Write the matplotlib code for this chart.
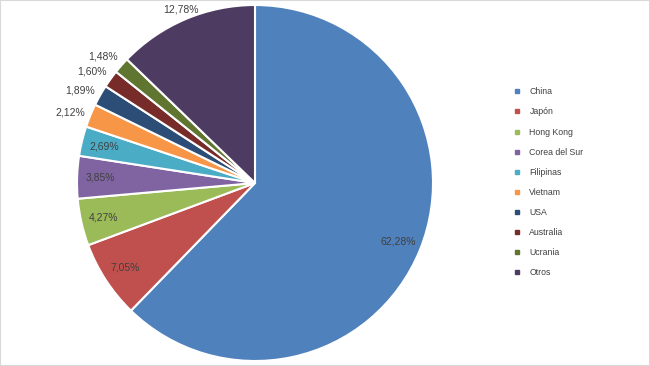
import numpy as np
import matplotlib.pyplot as plt
from matplotlib.lines import Line2D
from matplotlib.patches import Rectangle

paises = ['China', 'Japón', 'Hong Kong', 'Corea del Sur', 'Filipinas',
          'Vietnam', 'USA', 'Australia', 'Ucrania', 'Otros']
porcentajes = [62.28, 7.05, 4.27, 3.85, 2.69, 2.12, 1.89, 1.60, 1.48, 12.78]
colores = ['#4F81BD', '#C0504D', '#9BBB59', '#8064A2', '#4BACC6',
           '#F79646', '#2C4D75', '#772C2A', '#5F7530', '#4D3B62']
# labels drawn inside the slice (the rest go outside)
dentro = [True, True, True, True, True, False, False, False, False, False]

plt.rcParams['font.family'] = ['Liberation Sans', 'DejaVu Sans']

fig = plt.figure(figsize=(6.5, 3.66), dpi=100)
W, H = 650, 366
cx, cy, r = 255, 183, 178
ax = fig.add_axes([(cx - r) / W, (H - cy - r) / H, 2 * r / W, 2 * r / H])

wedges, _ = ax.pie(porcentajes, colors=colores, startangle=90, counterclock=False,
                   wedgeprops=dict(edgecolor='white', linewidth=1.5))
ax.set_xlim(-1, 1)
ax.set_ylim(-1, 1)
ax.set_aspect('equal')

for w, p, d in zip(wedges, porcentajes, dentro):
    mid = (w.theta1 + w.theta2) / 2
    if d:
        dist = 0.87
    elif p > 5:
        dist = 1.06
    else:
        # small outside labels sit a bit further round, like excel's best fit
        dist = 1.11
        mid += 1.5
    ang = np.deg2rad(mid)
    txt = ('%.2f%%' % p).replace('.', ',')
    ax.text(dist * np.cos(ang), dist * np.sin(ang), txt, ha='center', va='center',
            fontsize=7.5, color='#404040')

handles = [Line2D([], [], marker='s', linestyle='none', markersize=3.5,
                  markerfacecolor=c, markeredgecolor=c) for c in colores]
fig.legend(handles, paises, loc='upper left', bbox_to_anchor=(508 / W, 1 - 83 / H),
           frameon=False, fontsize=6.3, labelspacing=1.27, handlelength=1.0,
           handletextpad=0.95, borderpad=0, labelcolor='#404040')

fig.patches.append(Rectangle((0, 0), 1, 1, transform=fig.transFigure, fill=False,
                             edgecolor='#D9D9D9', linewidth=1.5))

fig.savefig('out.png', dpi=100)
